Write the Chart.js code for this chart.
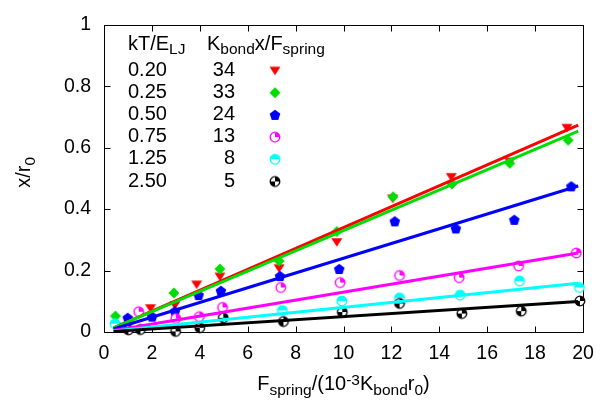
<!DOCTYPE html>
<html lang="en">
<head>
<meta charset="utf-8">
<title>Extension vs spring force</title>
<script src="https://cdn.jsdelivr.net/npm/chart.js@4.4.1/dist/chart.umd.min.js"></script>
<style>
  html, body { margin: 0; padding: 0; background: #fff; }
  #chart { display: block; }
</style>
</head>
<body>
<canvas id="chart" width="609" height="405"></canvas>
<script>
// key: temperature and fitted K_bond x / F_spring for each run
const kTValues = ['0.20', '0.25', '0.50', '0.75', '1.25', '2.50'];
const kBondValues = [34, 33, 24, 13, 8, 5];
const seriesColors = ['#ff0000', '#00dd00', '#0000ff', '#ff00ff', '#00ffff', '#000000'];
const markerKinds = ['triDown', 'diamond', 'pentagon', 'quarter', 'half', 'checker'];

// measured extension x/r0 vs F_spring/(1e-3 K_bond r0)
const redX = [0.50, 1.94, 2.96, 3.87, 4.84, 7.31, 9.72, 12.05, 14.50, 16.94, 19.33];
const redY = [0.018, 0.078, 0.088, 0.155, 0.181, 0.208, 0.293, 0.435, 0.505, 0.555, 0.665];
const greenX = [0.48, 2.92, 4.84, 7.31, 9.72, 12.07, 14.53, 16.94, 19.38];
const greenY = [0.052, 0.127, 0.205, 0.231, 0.327, 0.440, 0.482, 0.549, 0.624];
const blueX = [0.99, 2.01, 2.96, 3.95, 4.88, 7.35, 9.82, 12.14, 14.69, 17.13, 19.51];
const blueY = [0.046, 0.050, 0.067, 0.120, 0.134, 0.182, 0.205, 0.360, 0.337, 0.365, 0.474];
const magentaX = [1.45, 3.00, 3.98, 4.95, 7.38, 9.86, 12.34, 14.83, 17.31, 19.72];
const magentaY = [0.066, 0.044, 0.050, 0.080, 0.145, 0.161, 0.184, 0.177, 0.215, 0.257];
const cyanX = [0.46, 7.45, 9.93, 12.34, 14.87, 17.35, 19.85];
const cyanY = [0.027, 0.070, 0.101, 0.111, 0.120, 0.166, 0.145];
const blackX = [1.02, 1.52, 2.99, 4.00, 4.98, 7.49, 9.95, 12.34, 14.94, 17.42, 19.87];
const blackY = [0.007, 0.008, 0.002, 0.014, 0.046, 0.034, 0.065, 0.093, 0.060, 0.068, 0.101];

// x range covered by the straight-line fits
const fitRange = [0.4, 19.8];

const xTicks = [0, 2, 4, 6, 8, 10, 12, 14, 16, 18, 20];
const yTicks = [0, 0.2, 0.4, 0.6, 0.8, 1];
const yTickLabels = ['0', '0.2', '0.4', '0.6', '0.8', '1'];

const FONT = '"Liberation Sans", Arial, sans-serif';
const TICK_SIZE = 19.5;
const MAIN_SIZE = 20;
const SUB_SIZE = 15.5;

// small canvases used as point styles
function makeMarker(kind, color) {
    const c = document.createElement('canvas');
    c.width = 14;
    c.height = 14;
    const g = c.getContext('2d');
    g.translate(7, 7);
    g.fillStyle = color;
    g.strokeStyle = color;
    g.lineWidth = 1.3;
    const r = 4.8;
    const wedge = (a0, a1) => {
        g.beginPath();
        g.moveTo(0, 0);
        g.arc(0, 0, r, a0, a1);
        g.closePath();
        g.fill();
    };
    g.beginPath();
    if (kind === 'triDown') {
        g.moveTo(-5.5, -3.8);
        g.lineTo(5.5, -3.8);
        g.lineTo(0, 4.8);
        g.closePath();
        g.fill();
    } else if (kind === 'diamond') {
        g.moveTo(0, -5.5);
        g.lineTo(5.5, 0);
        g.lineTo(0, 5.5);
        g.lineTo(-5.5, 0);
        g.closePath();
        g.fill();
    } else if (kind === 'pentagon') {
        for (let i = 0; i < 5; i++) {
            const a = -Math.PI / 2 + i * 2 * Math.PI / 5;
            const px = 5.6 * Math.cos(a), py = 5.6 * Math.sin(a) + 0.4;
            if (i === 0) g.moveTo(px, py); else g.lineTo(px, py);
        }
        g.closePath();
        g.fill();
    } else {
        g.fillStyle = '#fff';
        g.arc(0, 0, r, 0, Math.PI * 2);
        g.fill();
        g.fillStyle = color;
        if (kind === 'quarter') wedge(-Math.PI / 2, 0);
        if (kind === 'half') wedge(-Math.PI, 0);
        if (kind === 'checker') {
            wedge(-Math.PI / 2, 0);
            wedge(Math.PI / 2, Math.PI);
        }
        g.beginPath();
        g.arc(0, 0, r, 0, Math.PI * 2);
        g.stroke();
    }
    return c;
}

const markers = markerKinds.map((k, i) => makeMarker(k, seriesColors[i]));

function toPoints(xs, ys) {
    return xs.map((x, i) => ({ x: x, y: ys[i] }));
}

// text with sub/superscript runs: [{t, sub|sup}]
function richWidth(ctx, parts) {
    let w = 0;
    parts.forEach(p => {
        ctx.font = `${p.sub || p.sup ? SUB_SIZE : MAIN_SIZE}px ${FONT}`;
        w += ctx.measureText(p.t).width;
    });
    return w;
}

function drawRich(ctx, parts, x, y) {
    ctx.textBaseline = 'alphabetic';
    ctx.textAlign = 'left';
    let cx = x;
    parts.forEach(p => {
        const small = p.sub || p.sup;
        ctx.font = `${small ? SUB_SIZE : MAIN_SIZE}px ${FONT}`;
        const dy = p.sub ? 4.5 : (p.sup ? -5.5 : 0);
        ctx.fillText(p.t, cx, y + dy);
        cx += ctx.measureText(p.t).width;
    });
}

const keyHeadT = [{ t: 'kT/E' }, { t: 'LJ', sub: true }];
const keyHeadK = [{ t: 'K' }, { t: 'bond', sub: true }, { t: 'x/F' }, { t: 'spring', sub: true }];
const xTitle = [
    { t: 'F' }, { t: 'spring', sub: true }, { t: '/(10' }, { t: '-3', sup: true },
    { t: 'K' }, { t: 'bond', sub: true }, { t: 'r' }, { t: '0', sub: true }, { t: ')' }
];
const yTitle = [{ t: 'x/r' }, { t: '0', sub: true }];

// frame with inward ticks on all four sides
const framePlugin = {
    id: 'frame',
    beforeDatasetsDraw(chart) {
        const { ctx, chartArea: a, scales } = chart;
        const L = Math.round(a.left) + 0.5, R = Math.round(a.right) + 0.5;
        const T = Math.round(a.top) + 0.5, B = Math.round(a.bottom) + 0.5;
        const len = 6;
        ctx.save();
        ctx.strokeStyle = '#000';
        ctx.lineWidth = 1;
        ctx.beginPath();
        ctx.rect(L, T, R - L, B - T);
        xTicks.forEach(v => {
            const px = Math.round(scales.x.getPixelForValue(v)) + 0.5;
            ctx.moveTo(px, B); ctx.lineTo(px, B - len);
            ctx.moveTo(px, T); ctx.lineTo(px, T + len);
        });
        yTicks.forEach(v => {
            const py = Math.round(scales.y.getPixelForValue(v)) + 0.5;
            ctx.moveTo(L, py); ctx.lineTo(L + len, py);
            ctx.moveTo(R, py); ctx.lineTo(R - len, py);
        });
        ctx.stroke();
        ctx.restore();
    },
    afterDraw(chart) {
        const { ctx, chartArea: a } = chart;
        ctx.save();
        ctx.fillStyle = '#000';

        // key in the upper left corner
        const col1 = 128, col2Right = 235, col2Head = 207, markX = 275;
        drawRich(ctx, keyHeadT, col1, 49.5);
        drawRich(ctx, keyHeadK, col2Head, 49.5);
        kTValues.forEach((kt, i) => {
            const base = 75.5 + i * 22.2;
            ctx.font = `${MAIN_SIZE}px ${FONT}`;
            ctx.textAlign = 'left';
            ctx.fillText(kt, col1, base);
            ctx.textAlign = 'right';
            ctx.fillText(String(kBondValues[i]), col2Right, base);
            const m = markers[i];
            ctx.drawImage(m, markX - m.width / 2, base - 5 - m.height / 2);
        });

        // axis titles
        const xw = richWidth(ctx, xTitle);
        drawRich(ctx, xTitle, (a.left + a.right) / 2 - xw / 2, 390);

        const yw = richWidth(ctx, yTitle);
        ctx.translate(30, (a.top + a.bottom) / 2 - 6);
        ctx.rotate(-Math.PI / 2);
        drawRich(ctx, yTitle, -yw / 2, 0);
        ctx.restore();
    }
};

function buildDatasets() {
    const xs = [redX, greenX, blueX, magentaX, cyanX, blackX];
    const ys = [redY, greenY, blueY, magentaY, cyanY, blackY];
    const sets = [];
    // measured points sit underneath the fit lines
    xs.forEach((x, i) => {
        sets.push({
            data: toPoints(x, ys[i]),
            showLine: false,
            pointStyle: markers[i],
            pointRadius: 5,
            clip: false,
            order: 20 - i
        });
    });
    // straight fits with slope K_bond x/F_spring * 1e-3
    kBondValues.forEach((k, i) => {
        sets.push({
            type: 'line',
            data: fitRange.map(f => ({ x: f, y: k * 1e-3 * f })),
            borderColor: seriesColors[i],
            borderWidth: 3,
            pointRadius: 0,
            fill: false,
            order: 10 - i
        });
    });
    return sets;
}

function initChart() {
    const ctx = document.getElementById('chart');
    const tickFont = { family: FONT, size: TICK_SIZE };
    new Chart(ctx, {
        type: 'scatter',
        data: { datasets: buildDatasets() },
        options: {
            responsive: false,
            animation: false,
            events: [],
            layout: { padding: { left: 0, right: 26, top: 10, bottom: 0 } },
            plugins: { legend: { display: false }, tooltip: { enabled: false } },
            scales: {
                x: {
                    type: 'linear',
                    min: 0,
                    max: 20,
                    afterBuildTicks: s => { s.ticks = xTicks.map(v => ({ value: v })); },
                    afterFit: s => { s.height = 73; },
                    grid: { display: false, drawTicks: false },
                    border: { display: false },
                    ticks: {
                        color: '#000',
                        font: tickFont,
                        padding: 10,
                        maxRotation: 0,
                        autoSkip: false,
                        callback: v => String(v)
                    }
                },
                y: {
                    type: 'linear',
                    min: 0,
                    max: 1,
                    afterBuildTicks: s => { s.ticks = yTicks.map(v => ({ value: v })); },
                    afterFit: s => { s.width = 104; },
                    grid: { display: false, drawTicks: false },
                    border: { display: false },
                    ticks: {
                        color: '#000',
                        font: tickFont,
                        padding: 13,
                        autoSkip: false,
                        callback: (v, i) => yTickLabels[i]
                    }
                }
            }
        },
        plugins: [framePlugin]
    });
}

document.addEventListener('DOMContentLoaded', initChart);
</script>
</body>
</html>
